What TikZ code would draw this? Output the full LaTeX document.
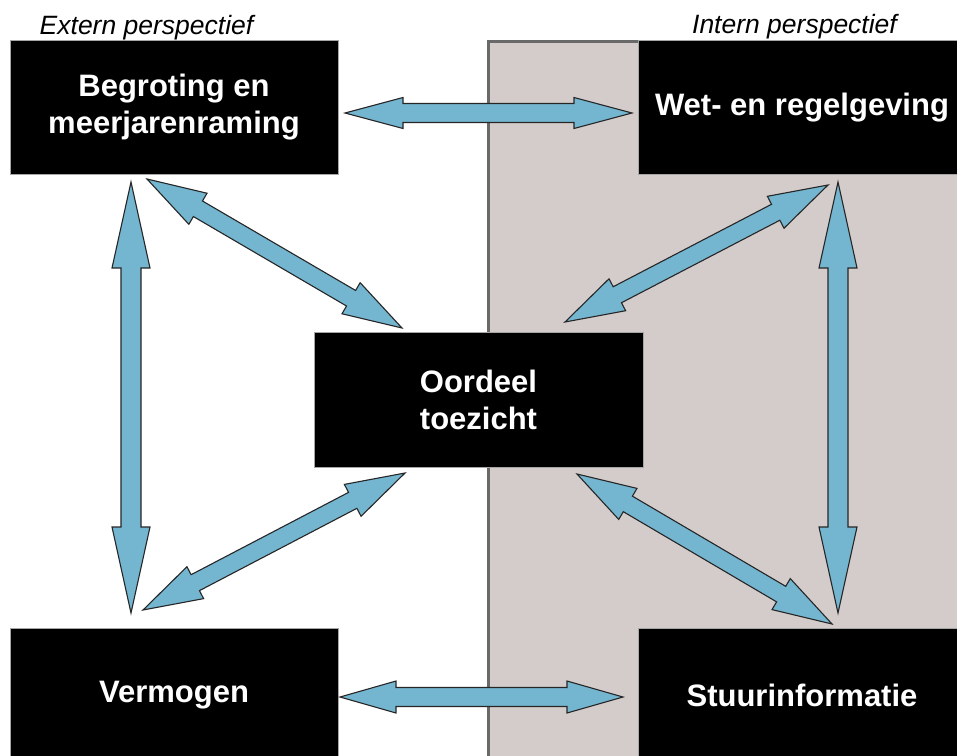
\documentclass[tikz,border=0pt]{standalone}
\usepackage{fontspec}
\setmainfont{Liberation Sans}
\usetikzlibrary{calc}
\definecolor{arrowblue}{RGB}{116,181,208}
\definecolor{panelgray}{RGB}{211,204,202}
\definecolor{edgegray}{RGB}{105,105,105}
\tikzset{
  blackbox/.style={fill=black, draw=gray!70, line width=0.8pt, inner sep=0pt,
    minimum width=328pt, minimum height=134pt, text=white, align=center,
    font=\bfseries\fontsize{31}{37}\selectfont},
  persp/.style={font=\itshape\fontsize{26.5}{30}\selectfont, anchor=base, inner sep=0pt},
  barrow/.style={fill=arrowblue, draw=black!85, line width=1.1pt, line join=miter},
  panel/.style={fill=panelgray, draw=edgegray, line width=3pt}
}
\newcommand\blockarrow[5]{%
  \coordinate (ha) at ($(#1)!#3!(#2)$);
  \coordinate (hb) at ($(#2)!#3!(#1)$);
  \draw[barrow] (#1) -- ($(ha)!#4!90:(#2)$) -- ($(ha)!#5!90:(#2)$)
    -- ($(hb)!#5!-90:(#1)$) -- ($(hb)!#4!-90:(#1)$) -- (#2)
    -- ($(hb)!#4!90:(#1)$) -- ($(hb)!#5!90:(#1)$)
    -- ($(ha)!#5!-90:(#2)$) -- ($(ha)!#4!-90:(#2)$) -- cycle;
}
\begin{document}
\begin{tikzpicture}[x=1pt, y=-1pt]
\useasboundingbox (0,0) rectangle (957,755);
\clip (0,0) rectangle (957,755);
\fill[white] (0,0) rectangle (957,755);
% panel
\draw[panel] (488,41) rectangle (990,790);
% labels
\node[persp] (ext) at (146.5,34) {Extern perspectief};
\node[persp] (int) at (794.5,33) {Intern perspectief};
% boxes
\node[blackbox] (begr) at (174,107.5) {Begroting en\\meerjarenraming};
\node[blackbox] (wet) at (802,107.5) {Wet- en regelgeving};
\node[blackbox, minimum width=329pt, minimum height=135pt] (oord) at (478.5,399.5) {Oordeel\\toezicht};
\node[blackbox, minimum height=135pt] (verm) at (174,695.5) {Vermogen};
\node[blackbox, minimum height=135pt] (stuur) at (802,695.5) {Stuurinformatie};
% arrow end points
\coordinate (t1) at (345,113);  \coordinate (t2) at (632,113);
\coordinate (b1) at (340,697);  \coordinate (b2) at (623,697);
\coordinate (l1) at (131,182);  \coordinate (l2) at (131,613);
\coordinate (r1) at (838,182);  \coordinate (r2) at (838,613);
\coordinate (d1a) at (147,179); \coordinate (d1b) at (402,328);
\coordinate (d2a) at (143,610); \coordinate (d2b) at (405,473);
\coordinate (d3a) at (828,185); \coordinate (d3b) at (565,322);
\coordinate (d4a) at (577,474); \coordinate (d4b) at (832,624);
% arrows
\blockarrow{t1}{t2}{58pt}{15.5pt}{9.5pt}
\blockarrow{b1}{b2}{56pt}{16pt}{9.5pt}
\blockarrow{l1}{l2}{86pt}{19pt}{10pt}
\blockarrow{r1}{r2}{86pt}{19pt}{10pt}
\blockarrow{d1a}{d1b}{59pt}{18pt}{9pt}
\blockarrow{d2a}{d2b}{59pt}{18pt}{9pt}
\blockarrow{d3a}{d3b}{59pt}{18pt}{9pt}
\blockarrow{d4a}{d4b}{59pt}{18pt}{9pt}
\end{tikzpicture}
\end{document}
